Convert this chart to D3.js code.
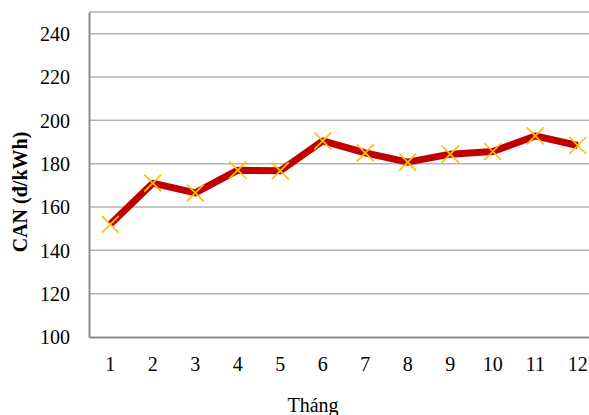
<!DOCTYPE html>
<html>
<head>
<meta charset="utf-8">
<script src="https://cdn.jsdelivr.net/npm/d3@7"></script>
<style>
  body { margin: 0; background: #fff; }
</style>
</head>
<body>
<svg id="chart" width="589" height="415"></svg>
<script>
// data
const months = ["1", "2", "3", "4", "5", "6", "7", "8", "9", "10", "11", "12"]
const canValues = [152, 171, 166.5, 177, 176.7, 190.5, 185, 180.7, 184.4, 185.6, 192.8, 188.4]
const yTicks = [100, 120, 140, 160, 180, 200, 220, 240]

const plotLeft = 89, plotTop = 12, plotBottom = 337, plotRight = 599
const serif = "'Liberation Serif', 'Times New Roman', Times, serif"

const svg = d3.select("#chart")

let x = d3.scaleBand()
  .domain(months)
  .range([plotLeft, plotRight])
  .padding(0)

let y = d3.scaleLinear()
  .domain([100, 250])
  .range([plotBottom, plotTop])

// grid lines
svg.append("g")
  .selectAll("line")
  .data(yTicks.filter(d => d > 100))
  .enter().append("line")
  .attr("x1", plotLeft).attr("x2", plotRight)
  .attr("y1", d => y(d)).attr("y2", d => y(d))
  .attr("stroke", "#b3b3b3")
  .attr("stroke-width", 1.5)

// top border
svg.append("line")
  .attr("x1", plotLeft).attr("x2", plotRight)
  .attr("y1", y(250)).attr("y2", y(250))
  .attr("stroke", "#b3b3b3").attr("stroke-width", 1.5)

// y axis
let yAxis = d3.axisLeft(y).tickValues(yTicks).tickSize(0).tickPadding(19)
let gy = svg.append("g")
  .attr("transform", `translate(${plotLeft},0)`)
  .call(yAxis)
  .attr("font-family", serif)
  .attr("font-size", 20)
gy.select(".domain").attr("stroke", "#8c8c8c").attr("stroke-width", 2)
gy.selectAll("text").attr("fill", "#000").attr("dy", "0.34em")

// x axis
let xAxis = d3.axisBottom(x).tickSize(0).tickPadding(20)
let gx = svg.append("g")
  .attr("transform", `translate(0,${plotBottom})`)
  .call(xAxis)
  .attr("font-family", serif)
  .attr("font-size", 20)
gx.select(".domain").attr("stroke", "#8c8c8c").attr("stroke-width", 2)
gx.selectAll("text").attr("fill", "#000")

// line
let line = d3.line()
  .x((d, i) => x(months[i]) + x.bandwidth() / 2)
  .y(d => y(d))

svg.append("path")
  .datum(canValues)
  .attr("d", line)
  .attr("fill", "none")
  .attr("stroke", "#c00000")
  .attr("stroke-width", 7)
  .attr("stroke-linejoin", "round")

// X markers
let s = 8.5
svg.append("g")
  .selectAll("path")
  .data(canValues)
  .enter().append("path")
  .attr("transform", (d, i) => `translate(${x(months[i]) + x.bandwidth() / 2},${y(d)})`)
  .attr("d", `M${-s},${-s}L${s},${s}M${-s},${s}L${s},${-s}`)
  .attr("stroke", "#ffc000")
  .attr("stroke-width", 1.6)
  .attr("fill", "none")

// axis titles
svg.append("text")
  .attr("transform", "translate(27,192) rotate(-90)")
  .attr("text-anchor", "middle")
  .attr("font-family", serif)
  .attr("font-size", 20)
  .attr("font-weight", "bold")
  .text("CAN (đ/kWh)")

svg.append("text")
  .attr("x", 313)
  .attr("y", 412)
  .attr("text-anchor", "middle")
  .attr("font-family", serif)
  .attr("font-size", 20)
  .text("Tháng")
</script>
</body>
</html>
